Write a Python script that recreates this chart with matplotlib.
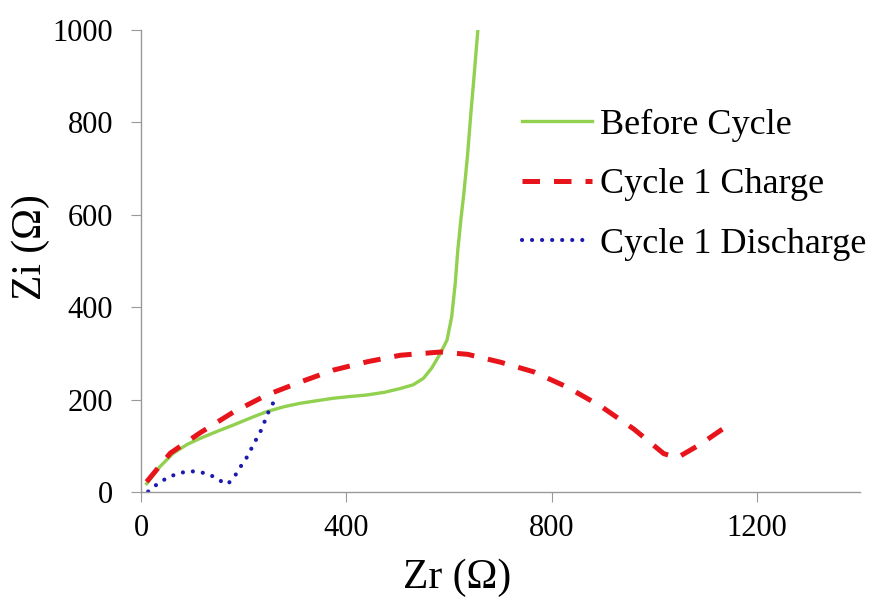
import matplotlib
matplotlib.use("Agg")
import matplotlib.pyplot as plt

plt.rcParams['font.family'] = ['Liberation Serif', 'DejaVu Serif']

# Before Cycle (green, solid)
before_zr = [11, 25, 37, 63, 90, 115, 150, 180, 215, 245, 280, 310, 345, 375, 410, 440,
             475, 505, 530, 550, 566, 583, 596, 605, 612, 617, 623, 629, 636, 642, 649, 656]
before_zi = [18, 38, 55, 84, 103, 116, 132, 145, 161, 174, 185, 192, 198, 203, 207, 210,
             216, 224, 232, 246, 268, 300, 329, 379, 452, 524, 590, 649, 730, 814, 905, 1000]

# Cycle 1 Charge (red, dashed)
charge_zr = [11, 57, 115, 180, 245, 310, 375, 441, 505, 583, 636, 700, 765, 830, 895, 960, 1018, 1044, 1089, 1140]
charge_zi = [22, 84, 128, 173, 210, 238, 264, 282, 296, 303, 298, 281, 260, 227, 186, 136, 83, 74, 103, 142]

# Cycle 1 Discharge (blue, dotted)
dis_zr = [14, 37, 60, 79, 97, 116, 135, 153, 169, 183, 194, 205, 214, 224, 234, 242, 250, 260]
dis_zi = [1, 22, 35, 42, 45, 43, 37, 25, 17, 35, 55, 73, 92, 113, 134, 156, 178, 198]

x_ticks = [0, 400, 800, 1200]
y_ticks = [0, 200, 400, 600, 800, 1000]

fig = plt.figure(figsize=(8.73, 6.0), dpi=100)
ax = fig.add_axes([0.1615, 0.18, 0.8235, 0.77])

ax.plot(before_zr, before_zi, color='#92D050', lw=2.4, label='Before Cycle')
ax.plot(charge_zr, charge_zi, color='#E8141B', lw=3.6, dashes=(3.5, 2.8), label='Cycle 1 Charge')
ax.plot(dis_zr, dis_zi, color='#1A1AB0', lw=3.0, linestyle=(0, (0.01, 2.4)),
        dash_capstyle='round', label='Cycle 1 Discharge')

ax.set_xlim(0, 1400)
ax.set_ylim(0, 1000)
ax.set_xticks(x_ticks)
ax.set_yticks(y_ticks)
ax.tick_params(labelsize=22, length=7, color='#999999')
ax.tick_params(axis='x', pad=9)
ax.tick_params(axis='y', pad=13)

for s in ['top', 'right']:
    ax.spines[s].set_visible(False)
for s in ['left', 'bottom']:
    ax.spines[s].set_color('#999999')
    ax.spines[s].set_linewidth(1.0)

ax.set_xlabel('Zr (Ω)', fontsize=30)
ax.set_ylabel('Zi (Ω)', fontsize=30)
ax.xaxis.set_label_coords(0.44, -0.143)
ax.yaxis.set_label_coords(-0.127, 0.53)

ax.legend(loc='upper left', bbox_to_anchor=(0.53, 0.83), frameon=False,
          fontsize=26, handlelength=1.94, handletextpad=0.22, labelspacing=0.73,
          borderaxespad=0, borderpad=0)

fig.savefig('out.png', dpi=100)
